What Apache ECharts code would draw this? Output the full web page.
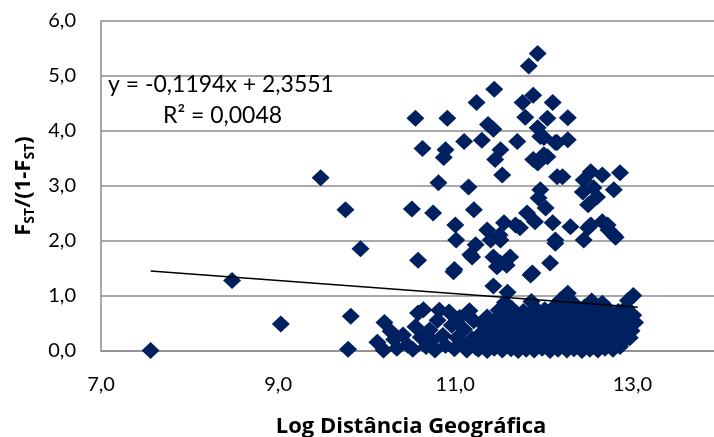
<!DOCTYPE html>
<html>
<head>
<meta charset="utf-8">
<script src="https://cdn.jsdelivr.net/npm/echarts@6/dist/echarts.min.js"></script>
<style>
html,body{margin:0;padding:0;background:#fff;}
#chart{width:714px;height:437px;}
</style>
</head>
<body>
<div id="chart"></div>
<script>
// Regression (from the chart annotation)
const slope = -0.1194;
const intercept = 2.3551;
const rSquared = 0.0048;
const trendRange = [7.56, 13.06];

// Axis ticks
const xTicks = [7, 9, 11, 13];
const yTicks = [0, 1, 2, 3, 4, 5, 6];

// Scattered points (x = log distance, y = FST/(1-FST))
const outlierPoints = [
  [7.56,0.01],[8.48,1.28],[9.03,0.49],[9.48,3.15],[9.76,2.57],[9.93,1.86],[9.82,0.63],[9.79,0.03]
];

const upperPoints = [
  [10.51,2.58],[10.58,1.65],[10.55,4.23],[10.91,4.23],[10.63,3.68],[10.89,3.66],[10.87,3.52],[10.81,3.06],
  [10.75,2.51],[10.99,1.48],[11.0,2.29],[11.01,2.02],[11.1,3.81],[11.15,2.98],[11.21,2.57],[11.24,4.52],
  [11.3,3.83],[11.37,4.12],[11.43,4.03],[11.44,4.76],[11.45,3.48],[11.51,3.66],[11.53,3.2],[11.36,2.2],
  [11.4,2.02],[11.5,2.11],[11.51,2.02],[11.55,2.33],[11.68,2.29],[11.73,2.24],[11.81,2.51],[11.9,2.35],
  [11.23,1.93],[11.17,1.75],[11.19,1.71],[11.43,1.71],[11.47,1.53],[11.51,1.6],[11.62,1.71],[11.58,1.56],
  [11.43,1.18],[11.59,1.07],[11.85,1.38],[10.98,1.44],
  [11.7,3.81],[11.76,4.52],[11.79,4.25],[11.83,5.18],[11.93,5.41],[11.88,4.65],[11.93,4.06],[11.96,3.9],
  [12.04,4.23],[12.1,4.52],[12.0,3.88],[12.13,3.79],[12.27,4.24],[12.27,3.84],[12.15,3.79],[11.88,3.48],
  [12.0,3.57],[11.93,3.42],[11.96,2.93],[11.94,2.78],[12.02,2.6],[12.04,3.53],[12.15,3.17],[12.21,3.17],
  [12.1,2.33],[12.13,2.02],[12.07,1.6],[12.13,1.96],[11.87,1.42],[12.3,2.26],[12.5,2.24],[12.66,2.35],
  [12.73,2.2],[12.81,2.07],[12.45,2.02],[12.53,3.26],[12.45,3.11],[12.66,3.2],[12.86,3.24],[12.79,2.93],
  [12.44,2.89],[12.56,2.97],[12.5,2.66],[12.6,2.8],[12.53,2.29],[12.72,2.29],[12.79,2.11]
];

const lowerLeftPoints = [
  [10.12,0.16],[10.19,0.02],[10.2,0.52],[10.27,0.36],[10.31,0.21],[10.34,0.05],[10.41,0.29],[10.46,0.11],
  [10.52,0.03],[10.55,0.44],[10.58,0.69],[10.61,0.25],[10.64,0.75],[10.67,0.08],[10.71,0.38],[10.74,0.19],
  [10.77,0.02],[10.8,0.56],[10.82,0.74],[10.86,0.28],[10.89,0.1],[10.93,0.71],[10.96,0.47],[10.99,0.04],
  [11.02,0.24],[11.05,0.61],[11.08,0.13],[11.1,0.39],[11.13,0.02],[11.16,0.73],[11.19,0.22],[11.21,0.55],
  [11.23,0.07]
];

const lowerMainPoints = [
  [11.26,0.03],[11.36,0.01],[11.44,0.05],[11.53,0.02],[11.63,0.04],[11.71,0.01],[11.8,0.03],[11.89,0.02],
  [11.98,0.05],[12.07,0.01],[12.16,0.03],[12.26,0.02],[12.34,0.04],[12.43,0.01],[12.52,0.03],[12.61,0.02],
  [12.69,0.05],[12.78,0.03],[12.86,0.08],
  [11.31,0.17],[11.4,0.14],[11.49,0.18],[11.58,0.13],[11.67,0.16],[11.76,0.19],[11.84,0.12],[11.94,0.17],
  [12.03,0.15],[12.12,0.18],[12.21,0.13],[12.3,0.16],[12.39,0.19],[12.47,0.14],[12.57,0.17],[12.65,0.12],
  [12.74,0.18],[12.82,0.15],[12.91,0.2],[12.97,0.24],
  [11.28,0.31],[11.37,0.28],[11.47,0.33],[11.56,0.29],[11.66,0.32],[11.74,0.27],[11.83,0.34],[11.91,0.3],
  [12.01,0.28],[12.1,0.33],[12.19,0.29],[12.28,0.31],[12.37,0.35],[12.46,0.28],[12.55,0.32],[12.63,0.3],
  [12.72,0.34],[12.8,0.29],[12.89,0.33],[12.99,0.37],
  [11.33,0.46],[11.43,0.43],[11.52,0.48],[11.61,0.44],[11.7,0.47],[11.79,0.42],[11.88,0.49],[11.97,0.45],
  [12.06,0.43],[12.15,0.48],[12.24,0.44],[12.33,0.46],[12.42,0.5],[12.51,0.43],[12.6,0.47],[12.68,0.45],
  [12.77,0.49],[12.86,0.44],[12.94,0.48],[13.03,0.52],
  [11.36,0.62],[11.46,0.58],[11.58,0.63],[11.67,0.59],[11.77,0.64],[11.86,0.6],[11.95,0.57],[12.04,0.63],
  [12.13,0.61],[12.21,0.66],[12.31,0.58],[12.4,0.62],[12.49,0.65],[12.58,0.59],[12.66,0.63],[12.75,0.6],
  [12.83,0.66],[12.91,0.62],[13.01,0.65],
  [11.49,0.74],[11.64,0.77],[11.77,0.72],[11.9,0.78],[12.01,0.75],[12.11,0.79],[12.23,0.73],[12.36,0.76],
  [12.46,0.8],[12.59,0.74],[12.71,0.78],[12.84,0.72],[12.93,0.79],
  [11.56,0.88],[11.86,0.9],[12.19,0.93],[12.32,0.89],[12.54,0.91],[12.66,0.87],[12.95,0.92],
  [12.27,1.05],[13.01,1.01]
];

const allPoints = outlierPoints.concat(upperPoints, lowerLeftPoints, lowerMainPoints);
const trendLine = trendRange.map(x => [x, slope * x + intercept]);

function fmt(v){ return v.toFixed(1).replace('.', ','); }
function fmt4(v){ return v.toFixed(4).replace('.', ','); }
const fontFam = 'Lato, "Open Sans", sans-serif';
const titleFam = '"Open Sans", Lato, sans-serif';
const gray = '#8c8c8c';

const chart = echarts.init(document.getElementById('chart'), null, {renderer: 'canvas'});
chart.setOption({
  animation: false,
  backgroundColor: '#fff',
  grid: {left: 101, right: -7, top: 21, bottom: 86, containLabel: false, outerBoundsMode: 'none'},
  xAxis: {
    type: 'value', min: 7, max: 14, interval: 2,
    axisLine: {show: true, lineStyle: {color: gray, width: 1.5}},
    axisTick: {show: false},
    splitLine: {show: false},
    axisLabel: {
      margin: 24, fontSize: 20, color: '#000', fontFamily: fontFam,
      showMaxLabel: false,
      formatter: v => xTicks.includes(v) ? fmt(v) : ''
    },
    name: 'Log Distância Geográfica',
    nameLocation: 'middle', nameGap: 65,
    nameTextStyle: {fontSize: 22, fontWeight: 'bold', color: '#000', fontFamily: titleFam}
  },
  yAxis: {
    type: 'value', min: 0, max: 6, interval: 1,
    axisLine: {show: true, lineStyle: {color: gray, width: 1.5}},
    axisTick: {show: false},
    splitLine: {show: true, lineStyle: {color: gray, width: 1.5}},
    axisLabel: {
      margin: 25, fontSize: 20, color: '#000', fontFamily: fontFam,
      formatter: v => yTicks.includes(v) ? fmt(v) : ''
    },
    name: '{b|F}{s|ST}{b|/(1-F}{s|ST}{b|)}',
    nameLocation: 'middle', nameGap: 60,
    nameTextStyle: {
      color: '#000', fontFamily: titleFam,
      rich: {
        b: {fontSize: 22, fontWeight: 'bold', color: '#000', fontFamily: titleFam, lineHeight: 28, verticalAlign: 'middle'},
        s: {fontSize: 14, fontWeight: 'bold', color: '#000', fontFamily: titleFam, lineHeight: 15, verticalAlign: 'bottom'}
      }
    }
  },
  graphic: [
    {type: 'text', left: 108, top: 73, z: 10,
     style: {text: 'y = ' + fmt4(slope) + 'x + ' + fmt4(intercept), fontSize: 23, fontFamily: fontFam, fill: '#000'}},
    {type: 'text', left: 163, top: 104, z: 10,
     style: {text: 'R² = ' + fmt4(rSquared), fontSize: 23, fontFamily: fontFam, fill: '#000'}}
  ],
  series: [
    {
      type: 'scatter', data: allPoints, symbol: 'diamond', symbolSize: [18, 17],
      itemStyle: {color: '#002060', opacity: 1}, z: 2
    },
    {
      type: 'line', data: trendLine, symbol: 'none', z: 3,
      lineStyle: {color: '#000', width: 1.5}
    }
  ]
});
</script>
</body>
</html>
